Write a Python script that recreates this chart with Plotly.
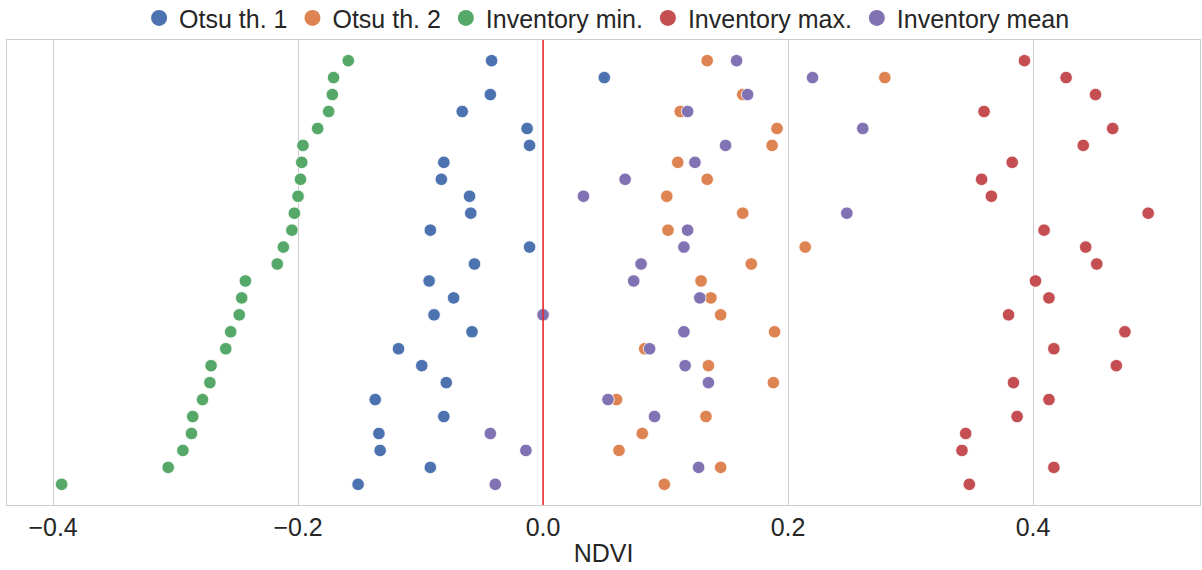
import plotly.graph_objects as go

rows = list(range(26))

otsu1 = [-0.042, 0.050, -0.043, -0.066, -0.013, -0.011, -0.081, -0.083, -0.060, -0.059,
         -0.092, -0.011, -0.056, -0.093, -0.073, -0.089, -0.058, -0.118, -0.099, -0.079,
         -0.137, -0.081, -0.134, -0.133, -0.092, -0.151]
otsu2 = [0.134, 0.279, 0.163, 0.112, 0.191, 0.187, 0.110, 0.134, 0.101, 0.163,
         0.102, 0.214, 0.170, 0.129, 0.137, 0.145, 0.189, 0.083, 0.135, 0.188,
         0.060, 0.133, 0.081, 0.062, 0.145, 0.099]
inv_min = [-0.159, -0.171, -0.172, -0.175, -0.184, -0.196, -0.197, -0.198, -0.200, -0.203,
           -0.205, -0.212, -0.217, -0.243, -0.246, -0.248, -0.255, -0.259, -0.271, -0.272,
           -0.278, -0.286, -0.287, -0.294, -0.306, -0.393]
inv_max = [0.393, 0.427, 0.451, 0.360, 0.465, 0.441, 0.383, 0.358, 0.366, 0.494,
           0.409, 0.443, 0.452, 0.402, 0.413, 0.380, 0.475, 0.417, 0.468, 0.384,
           0.413, 0.387, 0.345, 0.342, 0.417, 0.348]
inv_mean = [0.158, 0.220, 0.167, 0.118, 0.261, 0.149, 0.124, 0.067, 0.033, 0.248,
            0.118, 0.115, 0.080, 0.074, 0.128, 0.000, 0.115, 0.087, 0.116, 0.135,
            0.053, 0.091, -0.043, -0.014, 0.127, -0.039]

series = [
    ("Otsu th. 1", otsu1, "#4C72B0"),
    ("Otsu th. 2", otsu2, "#DD8452"),
    ("Inventory min.", inv_min, "#55A868"),
    ("Inventory max.", inv_max, "#C44E52"),
    ("Inventory mean", inv_mean, "#8172B3"),
]

fig = go.Figure()
for name, vals, col in series:
    fig.add_trace(go.Scatter(
        x=vals, y=rows, mode="markers", name=name, showlegend=False,
        marker=dict(size=12.5, color=col, line=dict(color="white", width=0.8)),
    ))
# legend-only entries with large symbols
for name, vals, col in series:
    fig.add_trace(go.Scatter(
        x=[None], y=[None], mode="markers", name=name, showlegend=True,
        marker=dict(size=22, color=col, line=dict(color="white", width=0)),
    ))

fig.add_vline(x=0, line=dict(color="#ee2222", width=1.5))

fig.update_layout(
    width=1202, height=570,
    margin=dict(l=7, r=2, t=40, b=65, autoexpand=False),
    paper_bgcolor="white", plot_bgcolor="white",
    font=dict(family="Liberation Sans, Arial, sans-serif", color="#262626", size=25),
    legend=dict(orientation="h", x=0.503, xanchor="center", y=1.047, yanchor="middle",
                font=dict(size=25), itemsizing="trace", tracegroupgap=0,
                itemwidth=30, bgcolor="rgba(0,0,0,0)"),
    showlegend=True,
)
fig.update_xaxes(
    range=[-0.4376, 0.5363], tickvals=[-0.4, -0.2, 0.0, 0.2, 0.4],
    ticktext=["\u22120.4", "\u22120.2", "0.0", "0.2", "0.4"],
    showgrid=True, gridcolor="#cccccc", gridwidth=1, zeroline=False,
    showline=True, linecolor="#cccccc", linewidth=1.2, mirror=True,
    ticks="", tickfont=dict(size=25),
    title=dict(text="NDVI", font=dict(size=25), standoff=4),
)
fig.update_yaxes(
    range=[26.22, -1.22], showticklabels=False, showgrid=False, zeroline=False,
    showline=True, linecolor="#cccccc", linewidth=1.2, mirror=True, ticks="",
)

fig.write_html(
    "out.html",
    config={"displayModeBar": False},
    post_script="document.body.style.margin='0';document.body.style.overflow='hidden';",
)
